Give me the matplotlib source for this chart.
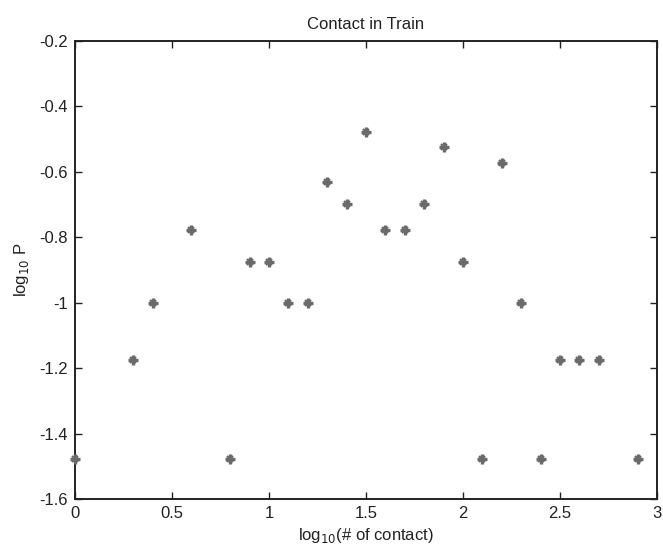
import matplotlib
matplotlib.use('Agg')
import matplotlib.pyplot as plt

# log10 of contact count vs log10 of probability
x_vals = [0.0, 0.3, 0.4, 0.6, 0.8, 0.9, 1.0, 1.1, 1.2, 1.3, 1.4, 1.5, 1.6,
          1.7, 1.8, 1.9, 2.0, 2.1, 2.2, 2.3, 2.4, 2.5, 2.6, 2.7, 2.9]
y_vals = [-1.477, -1.176, -1.0, -0.778, -1.477, -0.875, -0.875, -1.0, -1.0,
          -0.632, -0.699, -0.477, -0.778, -0.778, -0.699, -0.523, -0.875,
          -1.477, -0.574, -1.0, -1.477, -1.176, -1.176, -1.176, -1.477]
x_ticks = [0, 0.5, 1, 1.5, 2, 2.5, 3]
x_ticklabels = ['0', '0.5', '1', '1.5', '2', '2.5', '3']
y_ticks = [-1.6, -1.4, -1.2, -1.0, -0.8, -0.6, -0.4, -0.2]
y_ticklabels = ['-1.6', '-1.4', '-1.2', '-1', '-0.8', '-0.6', '-0.4', '-0.2']

plt.rcParams['font.family'] = ['Liberation Sans', 'DejaVu Sans']
plt.rcParams['font.size'] = 12

fig = plt.figure(figsize=(6.63, 5.46), dpi=100)
ax = fig.add_axes([0.1131, 0.0861, 0.8778, 0.8388])

ax.plot(x_vals, y_vals, linestyle='none', marker='+', markersize=7.5,
        markeredgewidth=2.4, color='#6a6a6a', clip_on=False, zorder=3)
ax.plot(x_vals, y_vals, linestyle='none', marker='x', markersize=5,
        markeredgewidth=1.6, color='#6a6a6a', clip_on=False, zorder=3)

ax.set_xlim(0, 3)
ax.set_ylim(-1.6, -0.2)
ax.set_xticks(x_ticks)
ax.set_xticklabels(x_ticklabels)
ax.set_yticks(y_ticks)
ax.set_yticklabels(y_ticklabels)
ax.tick_params(direction='in', length=5, width=1, top=True, right=True,
               colors='#222222', pad=5)
for s in ax.spines.values():
    s.set_linewidth(1.4)
    s.set_color('#222222')

ax.set_title('Contact in Train', fontsize=12, color='#222222', pad=9)
ax.set_xlabel('log$_{10}$(# of contact)', color='#222222', labelpad=4)
ax.set_ylabel('log$_{10}$ P', color='#222222', labelpad=6)

fig.savefig('out.png', dpi=100)
